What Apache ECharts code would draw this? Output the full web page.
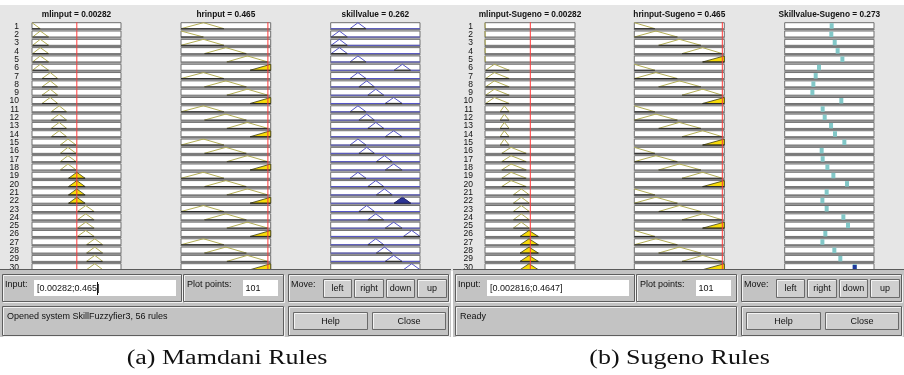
<!DOCTYPE html>
<html><head><meta charset="utf-8">
<script src="https://cdn.jsdelivr.net/npm/echarts@6/dist/echarts.min.js"></script>
<style>html,body{margin:0;padding:0;background:#fff}#c{width:904px;height:375px}</style>
</head><body><div id="c"></div><script>
// ---------------- DATA ----------------
const ruleNumbers = ['1','2','3','4','5','6','7','8','9','10','11','12','13','14','15','16','17','18','19','20','21','22','23','24','25','26','27','28','29','30'];

// Mamdani system
const mamdaniInputNames = ['mlinput', 'hrinput'];
const mamdaniOutputName = 'skillvalue';
const mamdaniInputValues = [0.00282, 0.465];
const mamdaniOutputValue = 0.262;
const mlRangeM = [0, 0.0056];
const hrRangeM = [0, 0.48];
const skillRangeM = [0, 1];
const mlMFsM = [[-0.00052,0,0.00052],[0.00004,0.00052,0.00105],[0.00063,0.00115,0.00162],[0.00121,0.00171,0.00218],[0.00178,0.00226,0.00278],[0.0023,0.00282,0.00334],[0.00286,0.00338,0.00391],[0.00343,0.00395,0.00445]];
const hrMFsM = [[-0.12,0,0.12],[0,0.12,0.23],[0.125,0.24,0.35],[0.245,0.355,0.465],[0.37,0.48,0.59]];
const skillMFsM = [[0.005,0.097,0.187],[0.216,0.305,0.396],[0.315,0.403,0.49],[0.415,0.505,0.595],[0.51,0.602,0.69],[0.61,0.705,0.80],[0.71,0.803,0.896],[0.815,0.907,1.0]];
const mlRuleM = [0,1,1,1,1,1,2,2,2,2,3,3,3,3,4,4,4,4,5,5,5,5,6,6,6,6,7,7,7,7];
const hrRuleM = [1,0,1,2,3,4,1,2,3,4,1,2,3,4,1,2,3,4,1,2,3,4,1,2,3,4,1,2,3,4];
const skillRuleM = [1,0,0,0,1,6,1,2,3,5,1,2,3,5,1,2,4,5,1,3,4,6,2,3,5,7,3,4,5,7];

// Sugeno system
const sugenoInputNames = ['mlinput-Sugeno', 'hrinput-Sugeno'];
const sugenoOutputName = 'Skillvalue-Sugeno';
const sugenoInputValues = [0.00282, 0.465];
const sugenoOutputValue = 0.273;
const mlRangeS = [0, 0.0056];
const hrRangeS = [0, 0.4755];
const skillRangeS = [0, 1];
const mlMFsS = [[-0.00002,0,0.00002],[0.00004,0.00058,0.00151],[0.00094,0.0012,0.0015],[0.00104,0.00162,0.00257],[0.00176,0.00226,0.00276],[0.00218,0.00274,0.00332]];
const hrMFsS = [[-0.109,0,0.109],[0,0.114,0.228],[0.128,0.238,0.352],[0.252,0.361,0.465],[0.361,0.4755,0.59]];
const mlRuleS = [0,0,0,0,0,1,1,1,1,1,2,2,2,2,2,3,3,3,3,3,4,4,4,4,4,5,5,5,5,5];
const hrRuleS = [0,1,2,3,4,0,1,2,3,4,0,1,2,3,4,0,1,2,3,4,0,1,2,3,4,0,1,2,3,4];
const skillConstS = [0.526,0.522,0.56,0.593,0.646,0.384,0.347,0.321,0.31,0.634,0.425,0.448,0.519,0.563,0.668,0.414,0.425,0.478,0.545,0.698,0.47,0.422,0.47,0.657,0.709,0.455,0.422,0.556,0.623,0.784];

// GUI texts
const inputFieldTexts = ['[0.00282;0.465]', '[0.002816;0.4647]'];
const plotPointsTexts = ['101', '101'];
const statusTexts = ['Opened system SkillFuzzyfier3, 56 rules', 'Ready'];
const moveButtons = ['left', 'right', 'down', 'up'];
const captions = ['(a) Mamdani Rules', '(b) Sugeno Rules'];

// ---------------- HELPERS ----------------
const UI_FONT = '"Liberation Sans", Arial, sans-serif';
const BOX_H = 6;
const C_BOX_STROKE = '#6e6e6e', C_SHADE = '#7a7a7a';
const C_IN_LINE = '#b3ae55', C_IN_FILL = '#f7dc0a', C_RED = '#ff3a3a';
const C_OUT_LINE = '#5555c8', C_OUT_FILL = '#2c3596';
const C_SG_BAR = '#82c8c8', C_SG_FIRE = '#1f3a9e';

function mf(p, x) {
  if (x <= p[0] || x >= p[2]) return 0;
  return x <= p[1] ? (x - p[0]) / (p[1] - p[0]) : (p[2] - x) / (p[2] - p[1]);
}
function mfPoints(p, lo, hi) {
  const s = Math.max(p[0], lo), e = Math.min(p[2], hi);
  const xs = [s];
  if (p[1] > s && p[1] < e) xs.push(p[1]);
  xs.push(e);
  return xs.map(x => [x, x === p[1] ? 1 : mf(p, x)]);
}
function rowFrame(params, api, range, row) {
  const cs = params.coordSys;
  const bandH = api.size([0, 1])[1];
  const yc = api.coord([range[0], row])[1];
  const top = yc - bandH / 2 + 0.5;
  const bot = top + BOX_H;
  const kids = [
    {type: 'rect', shape: {x: cs.x, y: top, width: cs.width, height: BOX_H},
     style: {fill: '#fff', stroke: C_BOX_STROKE, lineWidth: 1}},
    {type: 'line', shape: {x1: cs.x - 0.5, y1: bot + 0.9, x2: cs.x + cs.width + 0.5, y2: bot + 0.9},
     style: {stroke: C_SHADE, lineWidth: 1.4}}
  ];
  return {cs, bandH, yc, top, bot, kids};
}
function makeInputRender(range, value) {
  return function (params, api) {
    const row = api.value(0);
    const p = [api.value(1), api.value(2), api.value(3)];
    const deg = api.value(4);
    const f = rowFrame(params, api, range, row);
    const toPx = pt => [api.coord([pt[0], row])[0], f.bot - pt[1] * (f.bot - f.top)];
    const pts = mfPoints(p, range[0], range[1]).map(toPx);
    const kids = f.kids;
    if (deg > 0) {
      const poly = pts.slice();
      poly.push([pts[pts.length - 1][0], f.bot]);
      poly.unshift([pts[0][0], f.bot]);
      kids.push({type: 'polygon', shape: {points: poly}, style: {fill: C_IN_FILL, stroke: '#3a3a10', lineWidth: 0.8}});
    } else {
      kids.push({type: 'polyline', shape: {points: pts}, style: {stroke: C_IN_LINE, lineWidth: 1, fill: null}});
    }
    kids.push({type: 'line', shape: {x1: pts[0][0], y1: f.bot, x2: pts[pts.length - 1][0], y2: f.bot},
      style: {stroke: '#2a2a2a', lineWidth: 1}});
    const xr = api.coord([value, row])[0];
    kids.push({type: 'line', shape: {x1: xr, y1: f.yc - f.bandH / 2, x2: xr, y2: f.yc + f.bandH / 2},
      style: {stroke: C_RED, lineWidth: 1}});
    return {type: 'group', children: kids};
  };
}
function makeMamOutRender(range) {
  return function (params, api) {
    const row = api.value(0);
    const p = [api.value(1), api.value(2), api.value(3)];
    const deg = api.value(4);
    const f = rowFrame(params, api, range, row);
    const toPx = pt => [api.coord([pt[0], row])[0], f.bot - pt[1] * (f.bot - f.top)];
    const kids = f.kids;
    const core = mfPoints(p, range[0], range[1]);
    const full = [[range[0], 0]].concat(core, [[range[1], 0]]).map(toPx);
    kids.push({type: 'polyline', shape: {points: full}, style: {stroke: C_OUT_LINE, lineWidth: 1, fill: null}});
    const base = core.map(toPx);
    kids.push({type: 'line', shape: {x1: base[0][0], y1: f.bot, x2: base[base.length - 1][0], y2: f.bot},
      style: {stroke: '#333', lineWidth: 1.2}});
    if (deg > 0) {
      const x1 = p[0] + deg * (p[1] - p[0]), x2 = p[2] - deg * (p[2] - p[1]);
      const clip = [[p[0], 0], [x1, deg], [x2, deg], [p[2], 0]].map(toPx);
      kids.push({type: 'polygon', shape: {points: clip}, style: {fill: C_OUT_FILL, stroke: '#20205a', lineWidth: 0.8}});
    }
    return {type: 'group', children: kids};
  };
}
function makeSugOutRender(range) {
  return function (params, api) {
    const row = api.value(0);
    const v = api.value(1), deg = api.value(2);
    const f = rowFrame(params, api, range, row);
    const x = api.coord([v, row])[0];
    const kids = f.kids;
    kids.push({type: 'rect', shape: {x: x - 2, y: f.top + 0.5, width: 4, height: BOX_H - 0.5}, style: {fill: C_SG_BAR}});
    if (deg > 0) {
      const h = Math.max(1, deg * (BOX_H - 0.5));
      kids.push({type: 'rect', shape: {x: x - 2, y: f.bot - h, width: 4, height: h}, style: {fill: C_SG_FIRE}});
    }
    return {type: 'group', children: kids};
  };
}

// ---------------- BUILD ----------------
const GRID_TOP = 22.2, BAND = 8.31;
const GRID_H = BAND * ruleNumbers.length;
const columns = [
  {left: 32, width: 89, range: mlRangeM},
  {left: 181, width: 89.7, range: hrRangeM},
  {left: 330.7, width: 89.3, range: skillRangeM},
  {left: 485, width: 90, range: mlRangeS},
  {left: 634.3, width: 90, range: hrRangeS},
  {left: 784.7, width: 89.3, range: skillRangeS}
];
const grids = [], xAxes = [], yAxes = [], series = [];
columns.forEach((c, i) => {
  grids.push({left: c.left, top: GRID_TOP, width: c.width, height: GRID_H, containLabel: false});
  xAxes.push({type: 'value', gridIndex: i, min: c.range[0], max: c.range[1], show: false});
  const showLabels = (i === 0 || i === 3);
  yAxes.push({type: 'category', gridIndex: i, data: ruleNumbers, inverse: true, show: showLabels,
    axisLine: {show: false}, axisTick: {show: false}, splitLine: {show: false},
    axisLabel: {show: showLabels, interval: 0, fontSize: 8.5, color: '#111', fontFamily: UI_FONT, margin: i === 0 ? 13 : 12}});
});

const mamData = [[], [], []], sugData = [[], [], []];
ruleNumbers.forEach((_, r) => {
  const m1 = mlMFsM[mlRuleM[r]], m2 = hrMFsM[hrRuleM[r]], mo = skillMFsM[skillRuleM[r]];
  const d1 = mf(m1, mamdaniInputValues[0]), d2 = mf(m2, mamdaniInputValues[1]);
  mamData[0].push([r, m1[0], m1[1], m1[2], d1]);
  mamData[1].push([r, m2[0], m2[1], m2[2], d2]);
  mamData[2].push([r, mo[0], mo[1], mo[2], Math.min(d1, d2)]);
  const s1 = mlMFsS[mlRuleS[r]], s2 = hrMFsS[hrRuleS[r]];
  const e1 = mf(s1, sugenoInputValues[0]), e2 = mf(s2, sugenoInputValues[1]);
  sugData[0].push([r, s1[0], s1[1], s1[2], e1]);
  sugData[1].push([r, s2[0], s2[1], s2[2], e2]);
  sugData[2].push([r, skillConstS[r], Math.min(e1, e2)]);
});
const renders = [
  makeInputRender(mlRangeM, mamdaniInputValues[0]), makeInputRender(hrRangeM, mamdaniInputValues[1]), makeMamOutRender(skillRangeM),
  makeInputRender(mlRangeS, sugenoInputValues[0]), makeInputRender(hrRangeS, sugenoInputValues[1]), makeSugOutRender(skillRangeS)
];
const allData = mamData.concat(sugData);
allData.forEach((d, i) => {
  series.push({type: 'custom', xAxisIndex: i, yAxisIndex: i, data: d, renderItem: renders[i],
    encode: i === 5 ? {x: 1, y: 0} : {x: [1, 2, 3], y: 0}, silent: true, animation: false});
});

// titles
const titleTexts = [
  mamdaniInputNames[0] + ' = ' + mamdaniInputValues[0], mamdaniInputNames[1] + ' = ' + mamdaniInputValues[1], mamdaniOutputName + ' = ' + mamdaniOutputValue,
  sugenoInputNames[0] + ' = ' + sugenoInputValues[0], sugenoInputNames[1] + ' = ' + sugenoInputValues[1], sugenoOutputName + ' = ' + sugenoOutputValue
];
const graphics = [];
graphics.push({type: 'rect', shape: {x: 0, y: 5, width: 904, height: 266}, style: {fill: '#e6e6e6'}, z: -10});
columns.forEach((c, i) => {
  graphics.push({type: 'text', x: c.left + c.width / 2, y: 14.5, z: 5,
    style: {text: titleTexts[i], fontSize: 8.3, fontWeight: 'bold', fontFamily: UI_FONT, fill: '#111',
      align: 'center', verticalAlign: 'middle', textAlign: 'center', textVerticalAlign: 'middle'}});
});

function txt(x, y, s, opts) {
  opts = opts || {};
  return {type: 'text', x: x, y: y, z: 120, style: Object.assign({text: s, fontSize: 9, fontFamily: UI_FONT, fill: '#111',
    align: opts.align || 'left', verticalAlign: 'middle', textAlign: opts.align || 'left', textVerticalAlign: 'middle'}, opts.style || {})};
}
function frame(x, y, w, h) {
  return [
    {type: 'rect', z: 101, shape: {x: x + 0.5, y: y + 0.5, width: w, height: h}, style: {fill: null, stroke: '#f2f2f2', lineWidth: 1}},
    {type: 'rect', z: 102, shape: {x: x - 0.5, y: y - 0.5, width: w, height: h}, style: {fill: null, stroke: '#5e5e5e', lineWidth: 1}}
  ];
}
function button(x, y, w, h, label) {
  return [
    {type: 'rect', z: 103, shape: {x: x + 0.5, y: y + 0.5, width: w, height: h}, style: {fill: '#cfcfcf', stroke: '#6a6a6a', lineWidth: 1}},
    {type: 'polyline', z: 104, shape: {points: [[x + 1.5, y + h - 0.5], [x + 1.5, y + 1.5], [x + w - 0.5, y + 1.5]]}, style: {fill: null, stroke: '#f4f4f4', lineWidth: 1}},
    txt(x + w / 2 + 0.5, y + h / 2 + 1, label, {align: 'center'})
  ];
}
[0, 453].forEach((x0, k) => {
  const g = [];
  g.push({type: 'rect', z: 100, shape: {x: x0, y: 269.5, width: 451, height: 67.5}, style: {fill: '#c3c3c3'}});
  g.push({type: 'line', z: 101, shape: {x1: x0, y1: 269.5, x2: x0 + 451, y2: 269.5}, style: {stroke: '#5a5a5a', lineWidth: 1}});
  g.push(...frame(x0 + 3, 275, 179, 27));
  g.push(txt(x0 + 5, 284.5, 'Input:'));
  g.push({type: 'rect', z: 103, shape: {x: x0 + 34, y: 280, width: 142, height: 16}, style: {fill: '#fff'}});
  g.push(txt(x0 + 37, 288.5, inputFieldTexts[k]));
  g.push(...frame(x0 + 184, 275, 100, 27));
  g.push(txt(x0 + 187, 284.5, 'Plot points:'));
  g.push({type: 'rect', z: 103, shape: {x: x0 + 243, y: 280, width: 35, height: 16}, style: {fill: '#fff'}});
  g.push(txt(x0 + 245.5, 288.5, plotPointsTexts[k]));
  g.push(...frame(x0 + 289, 275, 160, 27));
  g.push(txt(x0 + 291, 284.5, 'Move:'));
  const bx = [[323, 28], [354, 29], [386, 28], [417, 29]];
  moveButtons.forEach((b, j) => g.push(...button(x0 + bx[j][0], 279, bx[j][1], 18, b)));
  g.push(...frame(x0 + 3, 307, 281, 29));
  g.push(txt(x0 + 7, 317, statusTexts[k]));
  g.push(...frame(x0 + 289, 307, 160, 29));
  g.push(...button(x0 + 293, 312, 74, 17, 'Help'));
  g.push(...button(x0 + 372, 312, 73, 17, 'Close'));
  graphics.push(...g);
});
// text cursor in first input field
graphics.push({type: 'line', z: 121, shape: {x1: 97.5, y1: 282, x2: 97.5, y2: 295}, style: {stroke: '#111', lineWidth: 1}});
// captions
[[227, 359], [679.5, 359]].forEach((p, k) => {
  graphics.push({type: 'text', x: p[0], y: p[1], z: 5, scaleX: 1.3,
    style: {text: captions[k], fontSize: 20, fontFamily: '"Liberation Serif", "Times New Roman", serif', fill: '#111',
      align: 'center', verticalAlign: 'middle', textAlign: 'center', textVerticalAlign: 'middle'}});
});

const chart = echarts.init(document.getElementById('c'), null, {renderer: 'canvas'});
chart.setOption({
  animation: false,
  backgroundColor: '#ffffff',
  grid: grids, xAxis: xAxes, yAxis: yAxes, series: series,
  graphic: {elements: graphics}
});
</script></body></html>
